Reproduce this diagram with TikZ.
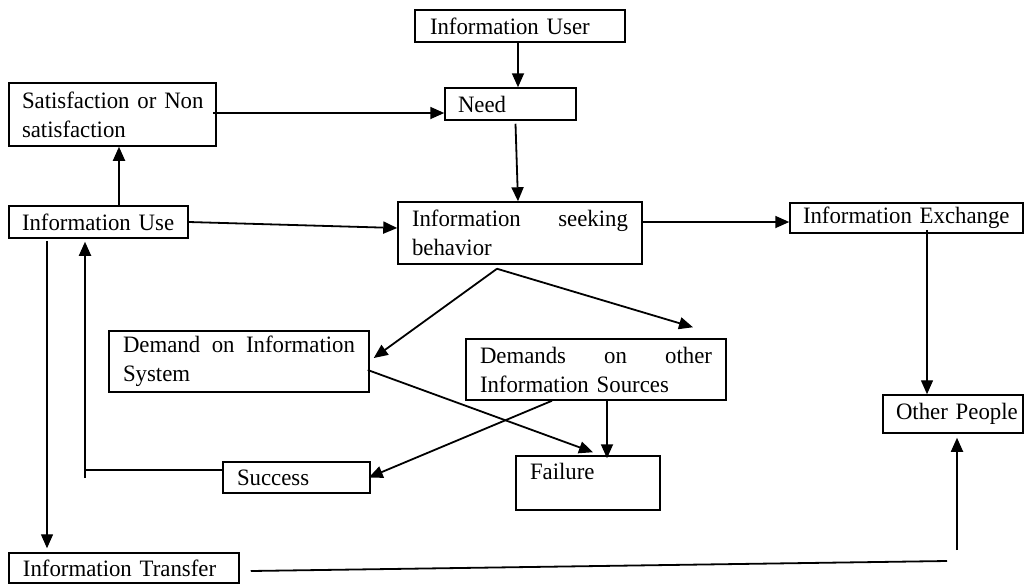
\documentclass[tikz,border=0pt]{standalone}
\usepackage{fontspec}
\setmainfont{Liberation Serif}[FakeStretch=0.97]
\usetikzlibrary{arrows.meta,calc}
\newcommand\lp{\hspace*{12pt}}
\tikzset{
  box/.style={draw, line width=1.5pt, rectangle, inner ysep=0pt, align=left,
    font=\fontsize{23.5}{29}\selectfont},
  lbox/.style={box, inner xsep=1pt},
  arr/.style={line width=1.8pt, -{Triangle[length=14pt,width=12pt]}},
  arrthin/.style={line width=1.4pt, -{Triangle[length=14pt,width=12pt]}},
  ln/.style={line width=1.8pt}
}
\begin{document}
\begin{tikzpicture}[x=1pt,y=-1pt]
\useasboundingbox (0,0) rectangle (1026,587);
% boxes
\node[lbox, minimum width=210pt, minimum height=32pt, text width=208pt] (user) at (520,26) {\hspace*{14pt}Information User};
\node[lbox, minimum width=131pt, minimum height=32pt, text width=129pt] (need) at (510.5,104) {\lp Need};
\node[lbox, minimum width=207pt, minimum height=63pt, text width=205pt] (sat) at (112.5,114.5) {\lp Satisfaction or Non\\\lp satisfaction};
\node[lbox, minimum width=179pt, minimum height=32pt, text width=177pt] (use) at (98.5,222) {\lp Information Use};
\node[box, minimum width=244pt, minimum height=62pt, text width=216pt, inner xsep=14pt] (seek) at (520,233) {Information\hfill seeking\\behavior};
\node[lbox, minimum width=233pt, minimum height=30pt, text width=231pt] (exch) at (906.5,218) {\lp Information Exchange};
\node[box, minimum width=260pt, minimum height=61pt, text width=232pt, inner xsep=14pt] (demand) at (239,361.5) {Demand\hfill on\hfill Information\\System};
\node[box, minimum width=260pt, minimum height=61pt, text width=232pt, inner xsep=14pt] (others) at (596,369.5) {Demands\hfill on\hfill other\\Information Sources};
\node[lbox, minimum width=140pt, minimum height=38pt, text width=138pt] (other) at (953,414) {\lp Other People};
\node[lbox, minimum width=147pt, minimum height=31pt, text width=145pt] (success) at (296.5,477.5) {\hspace*{13pt}Success};
\node[lbox, minimum width=144pt, minimum height=54pt, text width=142pt, text height=21pt, text depth=29pt] (failure) at (588,483) {\hspace*{13pt}Failure};
\node[lbox, minimum width=230pt, minimum height=30pt, text width=228pt] (transfer) at (124,568) {\hspace*{13pt}Information Transfer};
% helper coordinates
\coordinate (apex) at ($(seek.south)+(-23,4)$);
\coordinate (bend) at (85,470);
\coordinate (tend) at (947,561);
\coordinate (vstart) at (957,550);
% connectors
\draw[arr] ($(user.south)+(-2,0)$) -- ($(user.south |- need.north)+(-2,0)$);
\draw[arr] ($(need.south)+(5,3)$) -- ($(seek.north)+(-2,0)$);
\draw[arr] ($(sat.east)+(-4,-1.5)$) -- ($(need.west)+(0,9)$);
\draw[arr] ($(use.north)+(20.5,0)$) -- ($(sat.south)+(6.5,0)$);
\draw[arr] (use.east) -- ($(seek.west)+(0,-5)$);
\draw[arr] ($(seek.east)+(0,-11)$) -- ($(exch.west)+(0,4)$);
\draw[arrthin] ($(exch.south)+(20.5,-4)$) -- ($(other.north)+(-26,0)$);
\draw[arr] (apex) -- ($(demand.east)+(4,-3.5)$);
\draw[arr] (apex) -- ($(others.north)+(97,-11)$);
\draw[arr] ($(demand.east)+(-2,8.5)$) -- ($(failure.north)+(5,-3)$);
\draw[arr] ($(others.south)+(11,0)$) -- ($(failure.north)+(19,3)$);
\draw[arr] ($(others.south)+(-44,0)$) -- ($(success.east)+(-2,0)$);
\draw[ln] ($(success.west)+(0,-7.5)$) -- (bend);
\draw[arr] ($(bend)+(0,8)$) -- ($(use.south)+(-13.5,3)$);
\draw[arrthin] ($(use.south)+(-51.5,2)$) -- ($(transfer.north)+(-77,-4)$);
\draw[ln] ($(transfer.east)+(11,3)$) -- (tend);
\draw[arr] (vstart) -- ($(other.south)+(4,4)$);
\end{tikzpicture}
\end{document}
